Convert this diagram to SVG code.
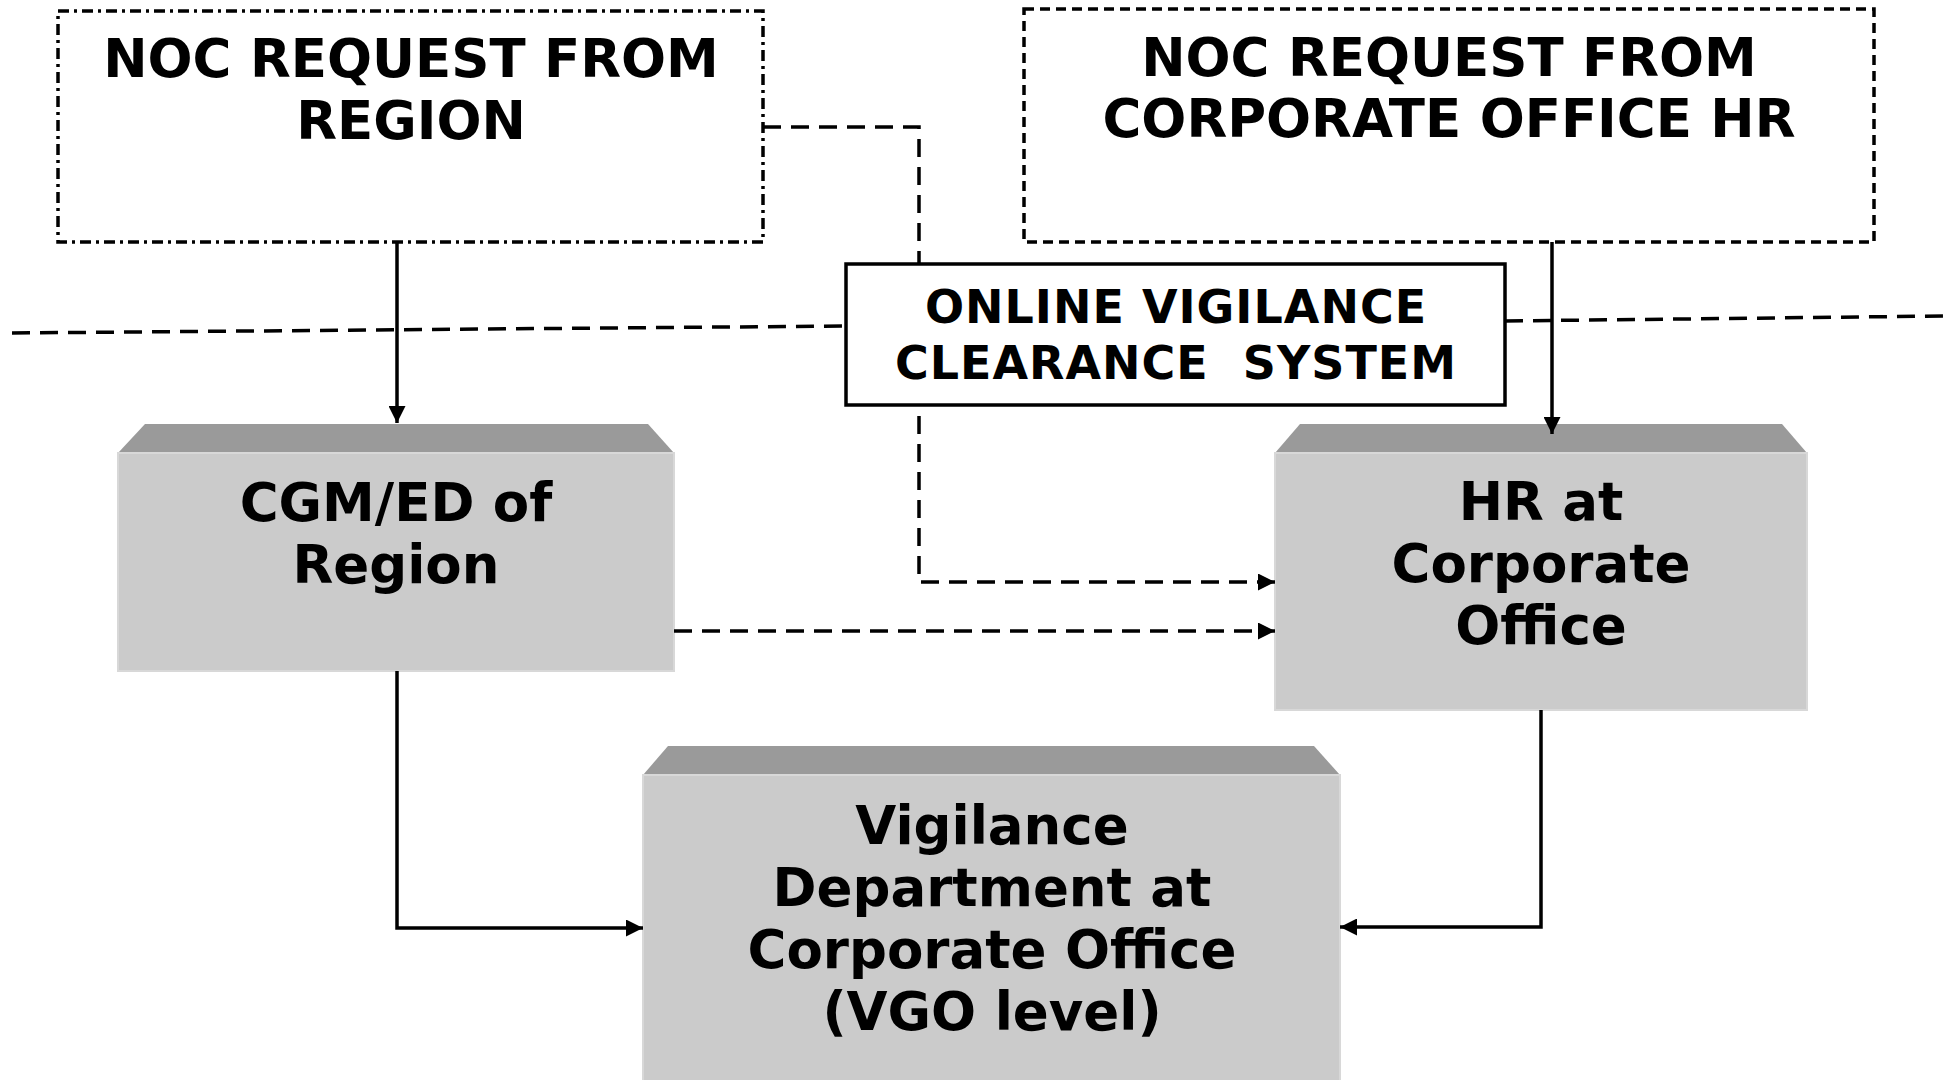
<svg xmlns="http://www.w3.org/2000/svg" width="1946" height="1080" viewBox="0 0 1946 1080">
<defs>
<style>
.t{font-family:"DejaVu Sans","Verdana",sans-serif;font-weight:bold;fill:#000;text-anchor:middle}
.big{font-size:53px}
.mid{font-size:46px}
.node{font-size:53px}
.face{fill:#cbcbcb;stroke:#d8d8d8;stroke-width:2}
.top{fill:#9a9a9a}
.c{fill:none;stroke:#000;stroke-width:3.5}
.d{stroke-dasharray:18 10}
</style>
<marker id="ah" viewBox="0 0 10 10" refX="10" refY="5" markerWidth="17" markerHeight="17" markerUnits="userSpaceOnUse" orient="auto">
<path d="M0,0 L10,5 L0,10 z" fill="#000"/>
</marker>
</defs>
<rect width="1946" height="1080" fill="#fff"/>

<g id="separator">
<path d="M12,333 L846,326" class="c d"/>
<path d="M1505,321 L1946,316" class="c d"/>
</g>

<g id="noc-region">
<rect x="58" y="11" width="705" height="231" fill="none" stroke="#000" stroke-width="3.5" stroke-dasharray="11 5 3 5"/>
<text class="t big" x="411" y="77">NOC REQUEST FROM</text>
<text class="t big" x="411" y="139">REGION</text>
</g>

<g id="noc-corporate">
<rect x="1024" y="9" width="850" height="233" fill="none" stroke="#000" stroke-width="3.5" stroke-dasharray="10 6"/>
<text class="t big" x="1449" y="76">NOC REQUEST FROM</text>
<text class="t big" x="1449" y="137">CORPORATE OFFICE HR</text>
</g>

<g id="ovcs">
<rect x="846" y="264" width="659" height="141" fill="#fff" stroke="#000" stroke-width="3.5"/>
<text class="t mid" x="1176" y="323" letter-spacing="1">ONLINE VIGILANCE</text>
<text class="t mid" x="1176" y="379" letter-spacing="1" xml:space="preserve">CLEARANCE  SYSTEM</text>
</g>

<g id="cgm">
<path d="M145,424 L648,424 L674,453 L118,453 z" class="top"/>
<rect x="118" y="453" width="556" height="218" class="face"/>
<text class="t node" x="396" y="521">CGM/ED of</text>
<text class="t node" x="396" y="583">Region</text>
</g>

<g id="hr">
<path d="M1300,424 L1782,424 L1807,453 L1275,453 z" class="top"/>
<rect x="1275" y="453" width="532" height="257" class="face"/>
<text class="t node" x="1541" y="520">HR at</text>
<text class="t node" x="1541" y="582">Corporate</text>
<text class="t node" x="1541" y="644">Office</text>
</g>

<g id="vgo">
<path d="M668,746 L1314,746 L1340,775 L643,775 z" class="top"/>
<rect x="643" y="775" width="697" height="310" class="face"/>
<text class="t node" x="992" y="844">Vigilance</text>
<text class="t node" x="992" y="906">Department at</text>
<text class="t node" x="992" y="968">Corporate Office</text>
<text class="t node" x="992" y="1030">(VGO level)</text>
</g>

<g id="connectors">
<path d="M397,242 L397,423" class="c" marker-end="url(#ah)"/>
<path d="M1552,242 L1552,434" class="c" marker-end="url(#ah)"/>
<path d="M763,127 L919,127 L919,264" class="c d"/>
<path d="M919,416 L919,582 L1275,582" class="c d" marker-end="url(#ah)"/>
<path d="M674,631 L1275,631" class="c d" marker-end="url(#ah)"/>
<path d="M397,671 L397,928 L643,928" class="c" marker-end="url(#ah)"/>
<path d="M1541,710 L1541,927 L1340,927" class="c" marker-end="url(#ah)"/>
</g>
</svg>
